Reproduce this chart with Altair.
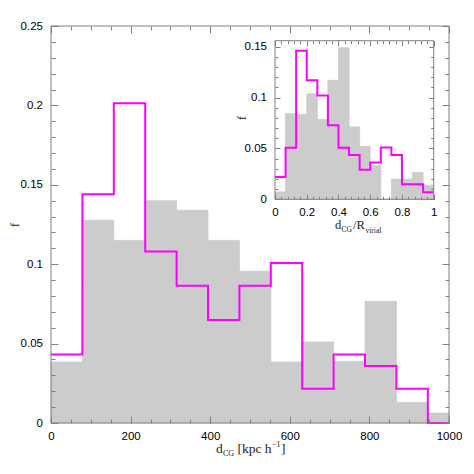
import altair as alt
import pandas as pd

# ---------------- data ----------------
main_left = [0, 78.9, 157.8, 236.7, 315.6, 394.5, 473.4, 552.3, 631.2, 710.1, 789.0, 867.9, 946.8]
main_right = [78.9, 157.8, 236.7, 315.6, 394.5, 473.4, 552.3, 631.2, 710.1, 789.0, 867.9, 946.8, 1000]
main_gray = [0.0384, 0.1277, 0.115, 0.140, 0.134, 0.115, 0.0956, 0.0384, 0.051, 0.0388, 0.0766, 0.013, 0.0063]
main_mag = [0.0432, 0.144, 0.2013, 0.108, 0.0864, 0.0648, 0.0864, 0.1007, 0.0216, 0.0432, 0.0359, 0.0216, 0.0]

ins_left = [0, 0.0667, 0.1333, 0.2, 0.2667, 0.3333, 0.4, 0.4667, 0.5333, 0.6, 0.6667, 0.7333, 0.8, 0.8667, 0.9333]
ins_right = [0.0667, 0.1333, 0.2, 0.2667, 0.3333, 0.4, 0.4667, 0.5333, 0.6, 0.6667, 0.7333, 0.8, 0.8667, 0.9333, 1.0]
ins_gray = [0.0073, 0.0844, 0.0835, 0.1038, 0.0785, 0.117, 0.149, 0.0712, 0.052, 0.033, 0.0, 0.0198, 0.0198, 0.0264, 0.0138]
ins_mag = [0.022, 0.0508, 0.146, 0.117, 0.102, 0.0729, 0.0508, 0.0435, 0.029, 0.0363, 0.051, 0.0435, 0.0148, 0.0148, 0.0069]

main_xticks = [0, 200, 400, 600, 800, 1000]
main_yticks = [0, 0.05, 0.1, 0.15, 0.2, 0.25]
ins_xticks = [0, 0.2, 0.4, 0.6, 0.8, 1]
ins_yticks = [0, 0.05, 0.1, 0.15]

# ---------------- layout ----------------
W, H = 398, 397
GRAY = "#808080"
FILL = "#cccccc"
MAG = "#ff00ff"
SANS = "Liberation Sans"
SERIF = "Liberation Serif"

mx = alt.Scale(domain=[0, 1000], nice=False, zero=False)
my = alt.Scale(domain=[0, 0.25], nice=False)
IX0, IX1, IY0, IY1 = 224.0, 382.7, 173.3, 14.7
ix = alt.Scale(domain=[0, 1], range=[IX0, IX1], nice=False, zero=False)
iy = alt.Scale(domain=[0, 0.156], range=[IY0, IY1], nice=False)

main_bars = pd.DataFrame({"x0": main_left, "x1": main_right, "g": main_gray})
main_line = pd.DataFrame({"x": main_left + [1000], "m": main_mag + [main_mag[-1]]})
ins_bars = pd.DataFrame({"x0": ins_left, "x1": ins_right, "g": ins_gray})
ins_line = pd.DataFrame({"x": ins_left + [1.0], "m": ins_mag + [ins_mag[-1]]})


def bars(df, xs, ys):
    return alt.Chart(df).mark_rect(color=FILL, stroke=FILL, strokeWidth=0.8).encode(
        x=alt.X("x0:Q", scale=xs, axis=None),
        x2="x1:Q",
        y=alt.Y("g:Q", scale=ys, axis=None),
        y2=alt.datum(0),
    )


def step(df, xs, ys):
    return alt.Chart(df).mark_line(interpolate="step-after", color=MAG, strokeWidth=2).encode(
        x=alt.X("x:Q", scale=xs, axis=None),
        y=alt.Y("m:Q", scale=ys, axis=None),
    )


def frame(xs, ys, x0, x1, y0, y1):
    return alt.Chart(pd.DataFrame({"a": [0]})).mark_rect(
        fill=None, stroke=GRAY, strokeWidth=1
    ).encode(
        x=alt.X(datum=x0, scale=xs, axis=None),
        x2=alt.datum(x1),
        y=alt.Y(datum=y0, scale=ys, axis=None),
        y2=alt.datum(y1),
    )


common = dict(domain=False, grid=False, tickColor=GRAY, tickWidth=1, labelFont=SANS,
              labelFontSize=11.5, labelColor="black", title=None, labelFlush=False,
              labelOverlap=False, zindex=2)


def axis(orient, values, size, offset, labels=False, pad=7, fmt="~g"):
    kw = dict(common)
    kw.update(orient=orient, values=values, tickSize=size, offset=offset, labels=labels)
    if labels:
        kw.update(labelPadding=pad, format=fmt)
    return alt.Axis(**kw)


dummy = pd.DataFrame({"x": [0], "y": [0]})


def ax_layer(xs, ys, xa, ya):
    return alt.Chart(dummy).mark_point(opacity=0, size=0).encode(
        x=alt.X("x:Q", scale=xs, axis=xa),
        y=alt.Y("y:Q", scale=ys, axis=ya),
    )


main_xminor = [i * 50 for i in range(21)]
main_yminor = [round(i * 0.01, 2) for i in range(26)]
ins_xminor = [round(i * 0.04, 2) for i in range(26)]
ins_yminor = [round(i * 0.01, 2) for i in range(16)]

MJ, MN = 7, 4
IJ, IN = 5, 3

axes = [
    # main
    ax_layer(mx, my, axis("bottom", main_xticks, MJ, -MJ, True, 7.5, "d"),
             axis("left", main_yticks, MJ, -MJ, True, 8.5)),
    ax_layer(mx, my, axis("bottom", main_xminor, MN, -MN), axis("left", main_yminor, MN, -MN)),
    ax_layer(mx, my, axis("top", main_xticks, MJ, -MJ), axis("right", main_yticks, MJ, -MJ)),
    ax_layer(mx, my, axis("top", main_xminor, MN, -MN), axis("right", main_yminor, MN, -MN)),
    # inset
    ax_layer(ix, iy, axis("bottom", ins_xticks, IJ, IY0 - IJ - H, True, 7.5),
             axis("left", ins_yticks, IJ, -(IX0 + IJ), True, 8.5)),
    ax_layer(ix, iy, axis("bottom", ins_xminor, IN, IY0 - IN - H),
             axis("left", ins_yminor, IN, -(IX0 + IN))),
    ax_layer(ix, iy, axis("top", ins_xticks, IJ, -(IY1 + IJ)),
             axis("right", ins_yticks, IJ, IX1 - IJ - W)),
    ax_layer(ix, iy, axis("top", ins_xminor, IN, -(IY1 + IN)),
             axis("right", ins_yminor, IN, IX1 - IN - W)),
]


def txt(t, x, y, size, font=SERIF, angle=0, align="left"):
    return alt.Chart(pd.DataFrame({"t": [t]})).mark_text(
        align=align, baseline="alphabetic", font=font, fontSize=size, color="#222222", angle=angle
    ).encode(text="t:N", x=alt.value(x), y=alt.value(y))


texts = [
    # main x title: d_CG [kpc h^-1]
    txt("d", 165, 427, 13.5),
    txt("CG", 172, 430, 8),
    txt("[kpc h", 186.5, 427, 13.5),
    txt("\u22121", 221, 421, 8),
    txt("]", 230, 427, 13.5),
    # main y title
    txt("f", -32, 199, 13, angle=270, align="center"),
    # inset x title: d_CG / R_virial
    txt("d", 284, 203, 12.5),
    txt("CG", 290.5, 206, 7.5),
    txt("/R", 302, 203, 12.5),
    txt("virial", 314.5, 206.5, 7.5),
    # inset y title
    txt("f", 195, 92, 12, angle=270, align="center"),
]

layers = [
    bars(main_bars, mx, my),
    step(main_line, mx, my),
    bars(ins_bars, ix, iy),
    step(ins_line, ix, iy),
    frame(mx, my, 0, 1000, 0, 0.25),
    frame(ix, iy, 0, 1, 0, 0.156),
] + axes + texts

chart = alt.layer(*layers).resolve_scale(x="independent", y="independent").properties(
    width=W, height=H,
    autosize=alt.AutoSizeParams(type="none"),
    padding={"left": 43, "top": 18, "right": 17, "bottom": 43},
).configure_view(stroke=None)

chart.save("out.html", embed_options={"renderer": "svg", "actions": False})
